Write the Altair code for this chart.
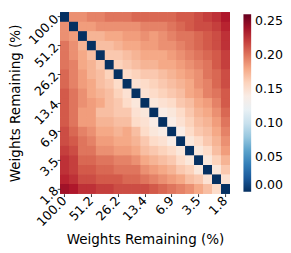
import altair as alt
import pandas as pd

levels = ["100.0", "80.0", "64.0", "51.2", "41.0", "32.8", "26.2", "21.0", "16.8", "13.4",
          "10.7", "8.6", "6.9", "5.5", "4.4", "3.5", "2.8", "2.3", "1.8"]
tick_labels = ["100.0", "51.2", "26.2", "13.4", "6.9", "3.5", "1.8"]
legend_values = [0, 0.05, 0.1, 0.15, 0.2, 0.25]

row00 = [0, .19, .19, .195, .195, .2, .2, .2, .205, .205, .205, .205, .205, .21, .21, .215, .22, .225, .235]
row01 = [.19, 0, .185, .185, .19, .19, .19, .19, .19, .195, .195, .195, .2, .205, .21, .215, .215, .22, .23]
row02 = [.19, .185, 0, .175, .175, .18, .18, .185, .185, .19, .185, .19, .195, .2, .2, .205, .21, .215, .225]
row03 = [.2, .19, .175, 0, .17, .17, .175, .18, .18, .185, .185, .19, .19, .195, .2, .205, .21, .215, .225]
row04 = [.2, .19, .18, .17, 0, .165, .165, .17, .175, .18, .18, .18, .185, .19, .195, .2, .205, .21, .22]
row05 = [.2, .195, .18, .175, .165, 0, .16, .165, .17, .175, .175, .18, .18, .185, .19, .195, .2, .21, .22]
row06 = [.205, .195, .185, .175, .17, .16, 0, .155, .16, .165, .165, .17, .175, .18, .185, .19, .2, .205, .215]
row07 = [.205, .195, .185, .18, .17, .165, .155, 0, .15, .155, .16, .165, .17, .175, .18, .19, .195, .205, .215]
row08 = [.21, .2, .19, .18, .175, .17, .16, .15, 0, .15, .155, .16, .165, .17, .18, .185, .195, .2, .21]
row09 = [.21, .2, .19, .185, .18, .17, .165, .155, .145, 0, .145, .15, .155, .165, .17, .18, .185, .195, .21]
row10 = [.21, .2, .185, .185, .17, .17, .165, .165, .15, .145, 0, .14, .145, .155, .165, .175, .18, .19, .205]
row11 = [.21, .2, .185, .185, .175, .175, .17, .17, .155, .15, .14, 0, .14, .15, .16, .17, .175, .185, .2]
row12 = [.215, .205, .195, .19, .18, .18, .175, .18, .17, .155, .145, .14, 0, .14, .155, .165, .17, .18, .195]
row13 = [.215, .21, .2, .195, .185, .185, .18, .18, .175, .165, .155, .15, .14, 0, .145, .155, .165, .175, .19]
row14 = [.22, .215, .2, .2, .19, .19, .185, .185, .18, .17, .165, .16, .155, .145, 0, .145, .155, .17, .185]
row15 = [.225, .22, .205, .205, .2, .2, .195, .195, .19, .18, .175, .17, .165, .155, .145, 0, .145, .16, .175]
row16 = [.225, .22, .21, .21, .205, .205, .2, .2, .2, .19, .185, .18, .175, .165, .16, .145, 0, .145, .165]
row17 = [.23, .225, .215, .215, .21, .21, .21, .205, .205, .2, .195, .19, .185, .18, .17, .165, .15, 0, .15]
row18 = [.24, .235, .225, .225, .22, .22, .215, .215, .215, .215, .21, .205, .2, .195, .19, .18, .17, .155, 0]

matrix = [row00, row01, row02, row03, row04, row05, row06, row07, row08, row09,
          row10, row11, row12, row13, row14, row15, row16, row17, row18]

# RdBu_r colour stops over the colour domain 0 .. 0.26
cmap_stops = [0.0, 0.026, 0.052, 0.078, 0.104, 0.13, 0.156, 0.182, 0.208, 0.234, 0.26]
cmap_colors = ["#053061", "#2166ac", "#4393c3", "#92c5de", "#d1e5f0", "#f7f7f7",
               "#fddbc7", "#f4a582", "#d6604d", "#b2182b", "#67001f"]

records = []
for i, yl in enumerate(levels):
    for j, xl in enumerate(levels):
        records.append({"x": xl, "y": yl, "v": matrix[i][j]})
df = pd.DataFrame(records)

FONT = "DejaVu Sans"

base = alt.Chart(df).mark_rect().encode(
    x=alt.X("x:O", sort=levels, title="Weights Remaining (%)",
            scale=alt.Scale(paddingInner=0, paddingOuter=0),
            axis=alt.Axis(values=tick_labels, labelAngle=-45, labelAlign="right",
                          labelBaseline="middle", labelFontSize=13, titleFontSize=14,
                          labelPadding=2, titlePadding=4, tickSize=3, domain=False,
                          titleFontWeight="normal")),
    y=alt.Y("y:O", sort=levels, title="Weights Remaining (%)",
            scale=alt.Scale(paddingInner=0, paddingOuter=0),
            axis=alt.Axis(values=tick_labels, labelAngle=-45, labelAlign="right",
                          labelBaseline="middle", labelFontSize=13, titleFontSize=14,
                          labelPadding=1, titlePadding=5, tickSize=3, domain=False,
                          titleFontWeight="normal")),
    color=alt.Color("v:Q",
                    scale=alt.Scale(domain=cmap_stops, range=cmap_colors, interpolate="rgb"),
                    legend=alt.Legend(title=None, orient="none", legendX=190, legendY=2,
                                      gradientLength=184, gradientThickness=8,
                                      values=legend_values, format=".2f",
                                      labelFontSize=13, labelBaseline="middle",
                                      labelOffset=4, gradientStrokeWidth=0)),
)

chart = alt.layer(base, base, base).properties(
    width=176, height=188, padding={"left": 0, "top": 0, "right": 0, "bottom": 0}
).configure_view(stroke=None).configure_axis(
    labelFont=FONT, titleFont=FONT, labelColor="black", titleColor="black",
    tickColor="#333"
).configure_legend(labelFont=FONT, labelColor="black")

chart.save("out.html", embed_options={"renderer": "svg", "actions": False})
